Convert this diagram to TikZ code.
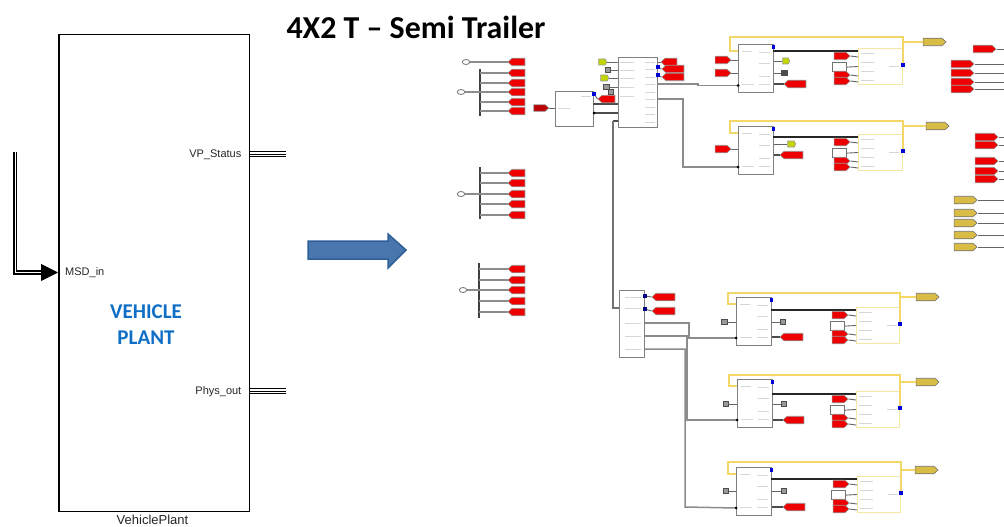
\documentclass[tikz,border=0pt]{standalone}
\usepackage{fontspec}
\setmainfont{Liberation Sans}
\newfontfamily\calfont{Carlito}
\usetikzlibrary{shapes.symbols,shapes.geometric,arrows.meta}
\definecolor{tagred}{HTML}{EE0000}
\definecolor{taggold}{HTML}{D9BC45}
\definecolor{taglime}{HTML}{C4D600}
\definecolor{ylwire}{HTML}{F3D768}
\definecolor{ylbox}{HTML}{F6E6A6}
\definecolor{wiregray}{HTML}{8C8C8C}
\definecolor{arrowfill}{HTML}{4A76AE}
\definecolor{arrowedge}{HTML}{2E5F98}
\definecolor{planttext}{HTML}{0F6FC6}
\tikzset{
  x=1pt,y=-1pt,
  tagbase/.style={shape=signal,signal pointer angle=85,inner sep=0pt,minimum height=7.5pt,draw=black!40,line width=.6pt},
  redtag/.style={tagbase,fill=tagred},
  goldtag/.style={tagbase,fill=taggold,draw=black!55},
  limetag/.style={tagbase,fill=taglime,minimum height=6pt,signal pointer angle=130},
  darktag/.style={tagbase,fill=tagred!78!black,minimum height=6.5pt},
  block/.style={draw=black!50,line width=1.2pt,fill=white,inner sep=0pt},
  ylblock/.style={draw=ylbox,line width=1.2pt,inner sep=0pt},
  wire/.style={draw=wiregray,line width=1.5pt},
  darkwire/.style={draw=black!70,line width=1.3pt},
  thinwire/.style={draw=black!60,line width=.9pt},
  buswire/.style={draw=black!75,line width=2pt},
  ylwirest/.style={draw=ylwire,line width=1.5pt},
  srcoval/.style={draw=black!50,fill=white,line width=.9pt,ellipse,inner sep=0pt,minimum width=7.5pt,minimum height=5pt},
  graybox/.style={draw=black!70,fill=black!40,line width=.8pt,inner sep=0pt,minimum size=5.5pt},
  bluedot/.style={fill=blue!85!black,inner sep=0pt,minimum size=3.2pt},
  blackdot/.style={circle,fill=black,inner sep=0pt,minimum size=3pt},
  smalltxt/.style={font=\fontsize{11}{12}\selectfont,inner sep=0pt,text=black!85},
  faint/.style={draw=black!16,line width=.9pt},
  triline/.style={draw=black,line width=1pt},
}
\newcommand{\tagW}[5]{\pgfmathsetmacro\tw{#4-#3}\pgfmathsetmacro\tc{(#3+#4)/2}\node[#2,signal to=west,minimum width=\tw pt] (#1) at (\tc,#5) {};}
\newcommand{\tagE}[5]{\pgfmathsetmacro\tw{#4-#3}\pgfmathsetmacro\tc{(#3+#4)/2}\node[#2,signal to=east,minimum width=\tw pt] (#1) at (\tc,#5) {};}
\newcommand{\boxat}[6]{\pgfmathsetmacro\bw{#5-#3}\pgfmathsetmacro\bh{#6-#4}\node[#2,anchor=north west,minimum width=\bw pt,minimum height=\bh pt] (#1) at (#3,#4) {};}
% left fan: id, bus x, y1, y2, src x, src y, list of branch y
\newcommand{\fan}[7]{%
  \coordinate (#1t) at (#2,#3);\coordinate (#1b) at (#2,#4);
  \draw[buswire] (#1t) -- (#1b);
  \node[srcoval] (#1s) at (#5,#6) {};
  \draw[wire] (#1s) -- (#2,#6);
  \foreach \yy [count=\ii] in {#7}{%
    \tagW{#1r\ii}{redtag}{510}{527}{\yy}
    \draw[wire] (#2,\yy) -- (#1r\ii.west);
  }}
% cluster: id, xb, yt, yelx, yely, yelw, tagx, tagy, topy
\newcommand{\cluster}[9]{%
  \pgfmathsetmacro\xr{#2+35}\pgfmathsetmacro\yb{#3+48}
  \boxat{#1b}{block}{#2}{#3}{\xr}{\yb}
  \pgfmathsetmacro\yx{#4+#6}\pgfmathsetmacro\yy{#5+36}
  \boxat{#1y}{ylblock}{#4}{#5}{\yx}{\yy}
  \pgfmathsetmacro\tx{#7+23}
  \tagE{#1g}{goldtag}{#7}{\tx}{#8}
  \pgfmathsetmacro\yf{#3+7}\pgfmathsetmacro\xl{#2-8}\pgfmathsetmacro\xy{\yx+1}\pgfmathsetmacro\ydot{#5+17}
  \draw[ylwirest] (#2,\yf) -- (\xl,\yf) -- (\xl,#9) -- (\xy,#9) -- (\xy,\ydot);
  \draw[ylwirest] (\xy,#8) -- (#1g.west);
  \node[bluedot] (#1d) at (\xy,\ydot) {};
  \node[bluedot] (#1e) at (\xr+.5,#3+3) {};
  \pgfmathsetmacro\yk{#5+3}
  \coordinate (#1k) at (\xr,\yk);
  \draw[draw=black!85,line width=1.7pt] (#1k) -- (#4,\yk);
  \pgfmathsetmacro\wx{#4-26}\pgfmathsetmacro\wr{#4-12}\pgfmathsetmacro\wy{#5+14}\pgfmathsetmacro\wb{#5+23}
  \boxat{#1w}{draw=black!55,line width=1.2pt,fill=white,inner sep=0pt}{\wx}{\wy}{\wr}{\wb}
  \draw[thinwire] (#1w.east) -- (#4,\wy+4.5);
  \pgfmathsetmacro\tl{#4-26}\pgfmathsetmacro\trr{#4-10}
  \foreach \off [count=\ii] in {8,27,33}{%
    \pgfmathsetmacro\ty{#5+\off}
    \tagE{#1r\ii}{redtag}{\tl}{\trr}{\ty}
    \draw[thinwire] (#1r\ii.east) -- (#4,\ty+1);
  }
  \foreach \off in {5,14,23,32}{\draw[faint] (#4+3,#5+\off) -- (#4+16,#5+\off);}
  \draw[faint] (#4+31,#5+18) -- (#4+41,#5+18);
  \foreach \off in {8,19,32,40}{\draw[faint] (\xr-14,#3+\off) -- (\xr-3,#3+\off);}
  \draw[faint] (#2+4,#3+7) -- (#2+14,#3+7);
  \draw[faint] (#2+4,#3+40) -- (#2+16,#3+40);
}
\begin{document}
\begin{tikzpicture}
\useasboundingbox (0,0) rectangle (1004,527);
\fill[white] (0,0) rectangle (1004,527);
% ----- left block
\node[draw=black,line width=1.5pt,anchor=north west,minimum width=190.5pt,minimum height=476.5pt,inner sep=0pt] (plant) at (58,34) {};
\node[smalltxt,font=\fontsize{13}{14}\selectfont,anchor=north] (plantname) at (152.5,514.5) {VehiclePlant};
\node[smalltxt,anchor=west] (msd) at (65,273) {MSD\_in};
\node[smalltxt,anchor=east] (vps) at (241.5,155) {VP\_Status};
\node[smalltxt,anchor=east] (phys) at (241.5,392) {Phys\_out};
\node[font=\calfont\bfseries\fontsize{21}{22}\selectfont,text=planttext,align=center,inner sep=0pt] (plantlabel) at (146,324.5) {VEHICLE\\[4.5pt]PLANT};
\node[font=\calfont\bfseries\fontsize{31.9}{33}\selectfont,inner sep=0pt] (title) at (416,27) {4X2 T – Semi Trailer};
% input bus
\coordinate (inA) at (15,152);
\coordinate (inB) at (45,272.5);
\draw[draw=black,line width=4.2pt] (inA) |- (inB);
\draw[draw=white,line width=1pt] (15,151) |- (45,272.5);
\draw[-{Triangle[length=17pt,width=17pt]},draw=black,line width=1pt,fill=black] (43,272.5) -- (plant.west |- inB);
% output buses
\foreach \yy in {151.5,154,156.5}{\draw[triline] (plant.east |- 0,\yy) -- (286,\yy);}
\foreach \yy in {388.5,391,393.5}{\draw[triline] (plant.east |- 0,\yy) -- (286,\yy);}
% big arrow
\draw[draw=arrowedge,line width=1.5pt,fill=arrowfill] (308,241) -- (388,241) -- (388,234) -- (406,250) -- (388,268) -- (388,259) -- (308,259) -- cycle;
% ----- fans
\node[srcoval] (top) at (466,62) {};
\tagW{topr}{redtag}{510}{527}{62}
\draw[wire] (top) -- (topr.west);
\fan{fa}{480}{69}{116}{461}{92}{73,83,92,102,111}
\fan{fb}{480}{167}{219}{461}{194}{173,183,194,204,215}
\fan{fc}{479}{263}{318}{463}{290}{269,280,290,301,312}
% ----- block A and B
\boxat{A}{block}{555}{91}{593}{126}
\boxat{B}{block}{618}{57}{657}{127}
\tagE{Ain}{darktag}{532}{547}{108}
\draw[thinwire] (Ain.east) -- (A.west |- Ain);
\coordinate (a1) at (593,104);\coordinate (b1) at (618,104);
\coordinate (a2) at (593,113);\coordinate (b2) at (618,113);
\draw[darkwire] (a1) -- (b1);
\draw[darkwire] (a2) -- (b2);
\node[blackdot] (a2d) at (594,113) {};
\node[bluedot] (adot) at (594,94) {};
\tagW{Atag}{redtag}{600}{617}{99}
\draw[thinwire] (adot) -- (Atag.west);
\tagE{By1}{limetag}{598}{606}{62}
\draw[thinwire] (By1.east) -- (B.west |- By1);
\tagE{By2}{limetag}{600}{608}{78}
\draw[thinwire] (By2.east) -- (B.west |- By2);
\node[graybox] (Bg1) at (608,70) {};
\draw[thinwire] (Bg1) -- (B.west |- Bg1);
\node[graybox] (Bg2) at (606.5,87) {};
\node[graybox] (Bg3) at (611,92) {};
\draw[thinwire] (Bg2) -- (B.west |- Bg2);
\tagW{Bo1}{redtag}{663}{679}{62}
\tagW{Bo2}{redtag}{664}{686}{69}
\tagW{Bo3}{redtag}{664}{686}{77}
\draw[thinwire] (B.east |- Bo1) -- (Bo1.west);
\node[bluedot] (Bd2) at (658,67) {};
\node[bluedot] (Bd3) at (658,75) {};
\draw[thinwire] (Bd2) -- (Bo2.west);
\draw[thinwire] (Bd3) -- (Bo3.west);
\foreach \yy in {62,69,77,84,92,99,107,114,122}{\draw[faint] (645,\yy) -- (655,\yy);}
\foreach \yy in {62,70,78,87,96}{\draw[faint] (620,\yy) -- (634,\yy);}
\draw[faint] (581,96) -- (591,96);\draw[faint] (558,108) -- (570,108);
% block C
\boxat{C}{block}{619}{290}{644}{357}
\tagW{Co1}{redtag}{654}{677}{297}
\tagW{Co2}{redtag}{654}{677}{311}
\node[bluedot,fill=blue!50!black] (Cd1) at (645,296) {};
\node[bluedot,fill=blue!50!black] (Cd2) at (645,309) {};
\draw[thinwire] (Cd1) -- (Co1.west);
\draw[thinwire] (Cd2) -- (Co2.west);
\draw[darkwire] (613,121) -- (618,121);
\draw[darkwire,draw=black!55] (613,121) -- (613,308) -- (C.west |- 0,308);
\foreach \yy in {297,308,323,336,349}{\draw[faint] (625,\yy) -- (641,\yy);}
% ----- clusters
\cluster{c1}{738}{44}{858}{48}{44}{921}{42}{37}
\cluster{c2}{738}{126}{858}{134}{44}{924}{126}{121}
\cluster{c3}{736}{297}{856}{307}{43}{914}{297}{293}
\cluster{c4}{737}{379}{856}{391}{43}{914}{382}{375}
\cluster{c5}{736}{467}{857}{476}{43}{913}{470}{462}
% cluster inputs from B and C
\coordinate (c1i) at (738,85.5);\coordinate (c2i) at (738,167);
\coordinate (c3i) at (736,338);\coordinate (c4i) at (737,420);\coordinate (c5i) at (736,508);
\draw[wire] (B.east |- 0,84) -- (698,84) -- (698,85.5) -- (c1i);
\draw[wire] (B.east |- 0,99) -- (683,99) -- (683,167) -- (c2i);
\draw[wire] (C.east |- 0,323) -- (689,323) -- (689,338) -- (c3i);
\draw[wire] (C.east |- 0,336) -- (687,336) -- (687,420) -- (c4i);
\draw[wire] (C.east |- 0,349) -- (685,349) -- (685,507) -- (c5i);
\foreach \c in {c1i,c2i,c3i,c4i,c5i}{\node[blackdot] at (\c) {};}
% cluster side parts
\tagE{c1l1}{redtag}{713}{729}{60}\draw[thinwire] (c1l1.east) -- (c1b.west |- c1l1);
\tagE{c1l2}{redtag}{713}{729}{73}\draw[thinwire] (c1l2.east) -- (c1b.west |- c1l2);
\tagE{c1o1}{limetag}{782}{789}{61}\draw[thinwire] (c1b.east |- c1o1) -- (c1o1.west);
\node[graybox,fill=black!70] (c1o2) at (784.5,73) {};\draw[thinwire] (c1b.east |- c1o2) -- (c1o2);
\tagW{c1o3}{redtag}{786}{808}{84}\draw[darkwire] (c1b.east |- c1o3) -- (c1o3.west);
\tagE{c2l1}{redtag}{713}{729}{149}\draw[thinwire] (c2l1.east) -- (c2b.west |- c2l1);
\tagE{c2o1}{limetag}{787}{795}{144}\draw[thinwire] (c2b.east |- c2o1) -- (c2o1.west);
\tagW{c2o3}{redtag}{782}{805}{155}\draw[darkwire] (c2b.east |- c2o3) -- (c2o3.west);
\node[graybox] (c3l1) at (724.5,322) {};\draw[thinwire] (c3l1) -- (c3b.west |- c3l1);
\node[graybox] (c3o1) at (783,322) {};\draw[thinwire] (c3b.east |- c3o1) -- (c3o1);
\tagW{c3o3}{redtag}{782}{805}{337}\draw[darkwire] (c3b.east |- c3o3) -- (c3o3.west);
\node[graybox] (c4l1) at (726,404) {};\draw[thinwire] (c4l1) -- (c4b.west |- c4l1);
\node[graybox] (c4o1) at (784,404) {};\draw[thinwire] (c4b.east |- c4o1) -- (c4o1);
\tagW{c4o3}{redtag}{785}{806}{420}\draw[darkwire] (c4b.east |- c4o3) -- (c4o3.west);
\node[graybox] (c5l1) at (726,491) {};\draw[thinwire] (c5l1) -- (c5b.west |- c5l1);
\node[graybox] (c5o1) at (784,491) {};\draw[thinwire] (c5b.east |- c5o1) -- (c5o1);
\tagW{c5o3}{redtag}{785}{807}{507}\draw[darkwire] (c5b.east |- c5o3) -- (c5o3.west);
% ----- right column
\foreach \xa/\yy [count=\ii] in {971/49,949/64,949/73,949/82,949/89,973/137,973/145,973/161,973/171,973/179}{%
  \pgfmathsetmacro\xb{\xa+23}
  \tagE{rr\ii}{redtag}{\xa}{\xb}{\yy}
  \coordinate (rre\ii) at (1004,\yy);
  \draw[thinwire] (rr\ii.east) -- (rre\ii);
}
\foreach \yy [count=\ii] in {200,213,223,235,247}{%
  \tagE{rg\ii}{goldtag}{952}{975}{\yy}
  \coordinate (rge\ii) at (1004,\yy);
  \draw[thinwire] (rg\ii.east) -- (rge\ii);
}
\end{tikzpicture}
\end{document}
